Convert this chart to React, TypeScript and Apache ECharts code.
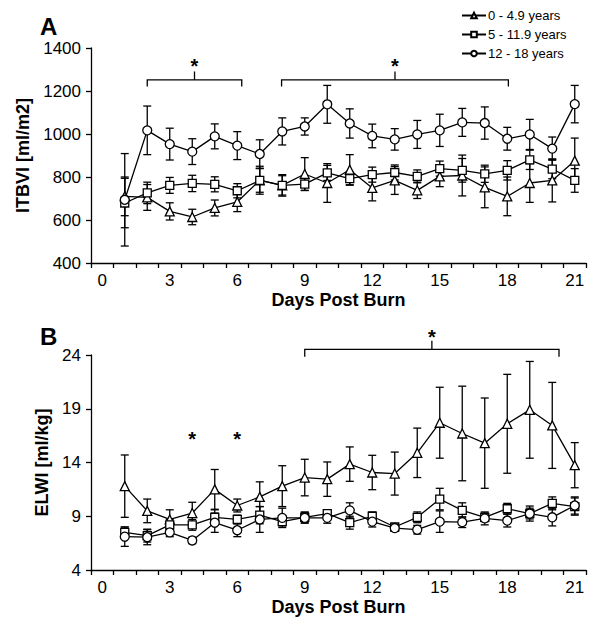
import React, { useEffect, useRef } from "react";
import * as echarts from "echarts";

// ---- data ----
const dayLabels = ["0","1","2","3","4","5","6","7","8","9","10","11","12","13","14","15","16","17","18","19","20","21"];
const days = [1,2,3,4,5,6,7,8,9,10,11,12,13,14,15,16,17,18,19,20,21];
const groupNames = ["0 - 4.9 years", "5 - 11.9 years", "12 - 18 years"];

// Panel A: ITBVI [ml/m2]
const itbviYoung = [710, 705, 640, 614, 656, 684, 785, 761, 814, 772, 834, 749, 784, 738, 803, 807, 752, 710, 772, 784, 876];
const itbviYoungErr = [90, 60, 40, 36, 37, 45, 65, 50, 76, 90, 70, 60, 65, 38, 48, 95, 95, 90, 90, 100, 105];
const itbviMid = [679, 726, 761, 770, 766, 736, 784, 761, 767, 819, 792, 811, 821, 803, 839, 831, 815, 831, 880, 837, 784];
const itbviMidErr = [115, 50, 37, 38, 35, 33, 55, 45, 30, 35, 30, 35, 35, 30, 35, 55, 40, 45, 45, 45, 55];
const itbviOld = [694, 1017, 953, 918, 989, 946, 907, 1012, 1035, 1138, 1049, 991, 975, 998, 1017, 1054, 1051, 978, 998, 932, 1139];
const itbviOldErr = [215, 113, 74, 60, 58, 65, 66, 63, 40, 88, 68, 55, 50, 65, 75, 65, 75, 53, 70, 54, 87];

// Panel B: ELWI [ml/kg]
const elwiYoung = [11.8, 9.5, 8.7, 9.3, 11.5, 10.0, 10.8, 11.8, 12.6, 12.45, 13.85, 13.07, 12.97, 14.9, 17.7, 16.7, 15.8, 17.6, 18.9, 17.45, 13.75];
const elwiYoungErr = [2.9, 1.1, 0.9, 1.0, 1.85, 0.6, 1.4, 1.9, 1.7, 1.6, 1.6, 1.6, 2.0, 2.3, 3.3, 4.4, 4.2, 4.6, 4.5, 4.0, 2.1];
const elwiMid = [7.5, 7.2, 8.2, 8.2, 8.9, 8.7, 9.1, 8.5, 8.9, 9.25, 8.4, 9.0, 8.0, 8.9, 10.6, 9.55, 8.9, 9.7, 9.25, 10.2, 9.9];
const elwiMidErr = [0.5, 0.6, 0.5, 0.5, 0.7, 0.4, 0.8, 0.4, 0.5, 0.3, 0.6, 0.4, 0.3, 0.5, 1.0, 0.7, 0.4, 0.5, 0.5, 0.6, 0.8];
const elwiOld = [7.1, 7.05, 7.5, 6.75, 8.4, 7.7, 8.7, 8.85, 8.85, 8.85, 9.55, 8.5, 7.9, 7.75, 8.5, 8.45, 8.8, 8.6, 9.25, 8.9, 10.0];
const elwiOldErr = [0.9, 0.7, 0.4, 0.3, 0.9, 0.6, 1.2, 0.9, 0.5, 0.5, 0.7, 0.5, 0.3, 0.4, 1.0, 0.5, 0.6, 0.6, 0.7, 0.8, 0.8];

// significance brackets: [fromDay, toDay]
const bracketsA = [[2, 6.2], [7.97, 18.05]];
const bracketsB = [[9, 20.3]];
// single asterisks in panel B (days)
const starsB = [4, 6];

const FONT = "'Liberation Sans', Arial, Helvetica, sans-serif";
const symbols = ["triangle", "rect", "circle"];
const symbolSizes = [9, 8, 9];

export default function App() {
  const ref = useRef<HTMLDivElement>(null);
  useEffect(() => {
    document.body.style.margin = "0";
    const chart = echarts.init(ref.current!, null, { renderer: "svg" });

    const ptsOf = (vals: number[]) => days.map((d, i) => [d, vals[i]]);
    const errOf = (vals: number[], errs: number[]) => days.map((d, i) => [d, vals[i], errs[i]]);

    const errRender = (params: any, api: any) => {
      const x = api.value(0), m = api.value(1), e = api.value(2);
      const t = api.coord([x, m + e]);
      const b = api.coord([x, m - e]);
      const w = 4;
      const st = { stroke: "#000", lineWidth: 1.3, fill: null };
      return {
        type: "group",
        children: [
          { type: "line", shape: { x1: t[0], y1: t[1], x2: b[0], y2: b[1] }, style: st },
          { type: "line", shape: { x1: t[0] - w, y1: t[1], x2: t[0] + w, y2: t[1] }, style: st },
          { type: "line", shape: { x1: b[0] - w, y1: b[1], x2: b[0] + w, y2: b[1] }, style: st },
        ],
      };
    };

    // bracket renderer: data [from, to, level, down, up, star]
    const bracketRender = (params: any, api: any) => {
      const from = api.value(0), to = api.value(1);
      const level = api.value(2), down = api.value(3), up = api.value(4), star = api.value(5);
      const c0 = api.coord([0, level]);
      const c1 = api.coord([1, level]);
      const unit = c1[0] - c0[0];
      const xf = c0[0] + from * unit;
      const xt = c0[0] + to * unit;
      const xm = (xf + xt) / 2;
      const yl = c0[1];
      const yd = api.coord([0, down])[1];
      const yu = api.coord([0, up])[1];
      const ys = api.coord([0, star])[1];
      const st = { stroke: "#000", lineWidth: 1.3, fill: null };
      return {
        type: "group",
        children: [
          { type: "polyline", shape: { points: [[xf, yd], [xf, yl], [xt, yl], [xt, yd]] }, style: st },
          { type: "line", shape: { x1: xm, y1: yl, x2: xm, y2: yu }, style: st },
          { type: "text", x: xm, y: ys, style: { text: "*", fill: "#000", font: `bold 20px ${FONT}`, align: "center", verticalAlign: "middle" } },
        ],
      };
    };

    const starRender = (params: any, api: any) => {
      const p = api.coord([api.value(0), api.value(1)]);
      return { type: "text", x: p[0], y: p[1], style: { text: "*", fill: "#000", font: `bold 20px ${FONT}`, align: "center", verticalAlign: "middle" } };
    };

    const xAxisBase = (gridIndex: number) => ({
      type: "category",
      gridIndex,
      data: dayLabels,
      boundaryGap: true,
      name: "Days Post Burn",
      nameLocation: "middle",
      nameGap: 28,
      nameTextStyle: { fontFamily: FONT, fontWeight: "bold", fontSize: 18, color: "#000" },
      axisLine: { lineStyle: { color: "#000", width: 1.3 } },
      axisTick: { show: true, interval: 0, length: 5, lineStyle: { color: "#000", width: 1.3 } },
      axisLabel: { interval: 2, margin: 9, fontFamily: FONT, fontSize: 17, color: "#000" },
      splitLine: { show: false },
    });

    const yAxisBase = (gridIndex: number, min: number, max: number, interval: number, name: string, nameGap: number) => ({
      type: "value",
      gridIndex,
      min, max, interval,
      name,
      nameLocation: "middle",
      nameRotate: 90,
      nameGap,
      nameTextStyle: { fontFamily: FONT, fontWeight: "bold", fontSize: 18, color: "#000" },
      axisLine: { show: true, lineStyle: { color: "#000", width: 1.3 } },
      axisTick: { show: true, length: 5, lineStyle: { color: "#000", width: 1.3 } },
      axisLabel: { margin: 10, fontFamily: FONT, fontSize: 17, color: "#000", formatter: (v: number) => String(v) },
      splitLine: { show: false },
    });

    const lineSeries = (name: string, idx: number, vals: number[], axis: number) => ({
      type: "line",
      name,
      xAxisIndex: axis,
      yAxisIndex: axis,
      data: ptsOf(vals),
      symbol: symbols[idx],
      symbolSize: symbolSizes[idx],
      showAllSymbol: true,
      lineStyle: { color: "#000", width: 1.3 },
      itemStyle: { color: "#fff", borderColor: "#000", borderWidth: 1.3 },
      z: 3,
    });

    const errSeries = (vals: number[], errs: number[], axis: number) => ({
      type: "custom",
      xAxisIndex: axis,
      yAxisIndex: axis,
      renderItem: errRender,
      data: errOf(vals, errs),
      encode: { x: 0, y: 1 },
      silent: true,
      z: 1,
    });

    const option: any = {
      animation: false,
      backgroundColor: "#fff",
      textStyle: { fontFamily: FONT },
      legend: {
        data: groupNames,
        orient: "vertical",
        left: 456,
        top: 4,
        itemWidth: 24,
        itemHeight: 7,
        itemGap: 6,
        textStyle: { fontFamily: FONT, fontSize: 13, color: "#000", padding: [0, 0, 0, -3] },
        selectedMode: false,
      },
      grid: [
        { left: 91, right: 14, top: 48, height: 215, containLabel: false },
        { left: 91, right: 14, top: 355, height: 215, containLabel: false },
      ],
      xAxis: [xAxisBase(0), xAxisBase(1)],
      yAxis: [
        yAxisBase(0, 400, 1400, 200, "ITBVI [ml/m2]", 56),
        yAxisBase(1, 4, 24, 5, "ELWI [ml/kg]", 32),
      ],
      graphic: [
        { type: "text", left: 40, top: 14, style: { text: "A", font: `bold 24px ${FONT}`, fill: "#000" } },
        { type: "text", left: 40, top: 324, style: { text: "B", font: `bold 24px ${FONT}`, fill: "#000" } },
      ],
      series: [
        errSeries(itbviYoung, itbviYoungErr, 0),
        errSeries(itbviMid, itbviMidErr, 0),
        errSeries(itbviOld, itbviOldErr, 0),
        lineSeries(groupNames[0], 0, itbviYoung, 0),
        lineSeries(groupNames[1], 1, itbviMid, 0),
        lineSeries(groupNames[2], 2, itbviOld, 0),
        errSeries(elwiYoung, elwiYoungErr, 1),
        errSeries(elwiMid, elwiMidErr, 1),
        errSeries(elwiOld, elwiOldErr, 1),
        lineSeries(groupNames[0], 0, elwiYoung, 1),
        lineSeries(groupNames[1], 1, elwiMid, 1),
        lineSeries(groupNames[2], 2, elwiOld, 1),
        {
          type: "custom",
          xAxisIndex: 0,
          yAxisIndex: 0,
          renderItem: bracketRender,
          data: bracketsA.map(([f, t]) => [f, t, 1252, 1221, 1291, 1315]),
          encode: { x: 0, y: 2 },
          clip: false,
          silent: true,
          z: 5,
        },
        {
          type: "custom",
          xAxisIndex: 1,
          yAxisIndex: 1,
          renderItem: bracketRender,
          data: bracketsB.map(([f, t]) => [f, t, 24.53, 23.84, 25.33, 25.7]),
          encode: { x: 0, y: 2 },
          clip: false,
          silent: true,
          z: 5,
        },
        {
          type: "custom",
          xAxisIndex: 1,
          yAxisIndex: 1,
          renderItem: starRender,
          data: starsB.map((d) => [d, 16.2]),
          encode: { x: 0, y: 1 },
          clip: false,
          silent: true,
          z: 5,
        },
      ],
    };

    chart.setOption(option);
    return () => chart.dispose();
  }, []);

  return <div ref={ref} style={{ width: 600, height: 629 }} />;
}
